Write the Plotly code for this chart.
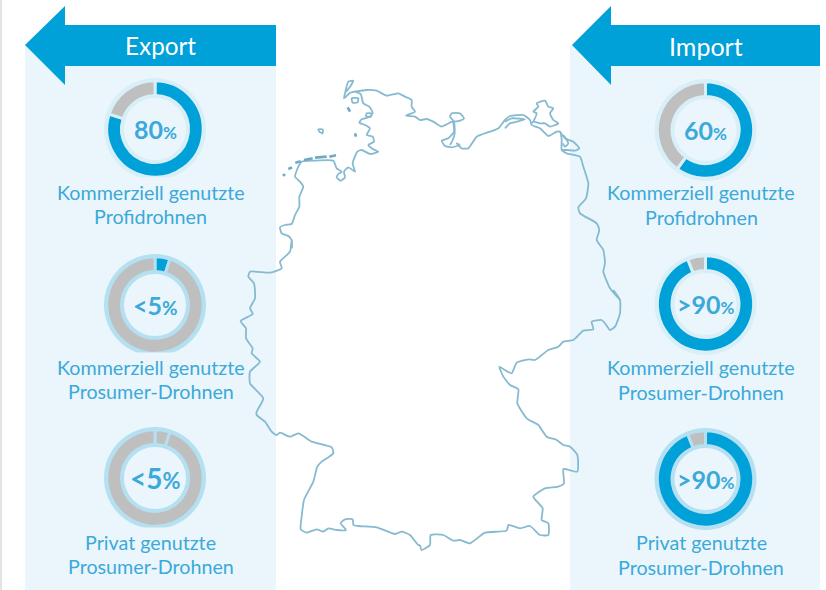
import plotly.graph_objects as go

W, H = 826, 590
FONT = "Lato"
TEXT = "#3ba9d9"
BLUE = "#00a0d8"
GREY = "#bfbfbf"
PANEL = "#eaf6fc"
HALO_LIGHT = "#d8eff8"
HALO_DARK = "#b4e0f2"
MAP_LINE = "#86bad0"

# Share values per donut: blue part, then grey part(s)
headers = ["Export", "Import"]
line_one = ["Kommerziell genutzte", "Kommerziell genutzte", "Privat genutzte"]
line_two = ["Profidrohnen", "Prosumer-Drohnen", "Prosumer-Drohnen"]
export_values = [[80, 20], [5, 95], [5, 95]]
export_colors = [[BLUE, GREY], [BLUE, GREY], [GREY, GREY]]
export_labels = ["80", "<5", "<5"]
export_sizes = [(25, 17), (25, 19), (28, 22)]
import_values = [[60, 40], [94, 6], [94, 6]]
import_colors = [[BLUE, GREY], [BLUE, GREY], [BLUE, GREY]]
import_labels = ["60", ">90", ">90"]
import_sizes = [(25, 17), (25, 17), (25, 17)]
export_halo = [HALO_LIGHT, HALO_DARK, HALO_DARK]
import_halo = [HALO_LIGHT, HALO_LIGHT, HALO_DARK]

# Map outline, read in three-times-enlarged crops: (offset x, offset y, points)
coast_west = (270, 70, [(65,535),(65,510),(55,498),(35,490),(30,472),(45,465),(65,462),(75,435),(88,410),(88,380),(100,350),(90,335),(75,320),(85,290),(95,275),(130,272),(190,272),(200,295),(215,305),(205,312),(200,322),(212,332),(225,322),(222,305),(235,292),(255,305),(248,280),(262,245),(275,240),(300,252),(325,245),(310,238),(295,225),(312,215),(308,200),(290,195),(300,175),(285,165),(268,158),(275,148),(300,140),(308,128),(298,110),(280,100),(272,72),(255,65),(240,68),(290,60),(320,62),(350,77),(385,70),(405,80),(425,90),(425,110),(435,125),(408,137),(435,140),(450,150),(470,147),(490,155),(515,170),(548,155),(552,185),(535,205),(515,212),(525,228),(545,232),(570,225)])
coast_east = (450, 90, [(30,165),(20,160),(35,175),(55,175),(80,140),(120,125),(145,115),(165,90),(180,78),(220,75),(240,90),(245,105),(270,115),(295,138),(320,125),(330,125),(335,150),(335,180),(350,190),(390,200),(400,230),(415,280),(408,325),(385,352),(390,370),(440,400),(448,420),(440,450),(460,480),(465,520),(460,545),(480,595),(510,630)])
border_east = (420, 290, [(580,0),(600,30),(600,70),(585,110),(570,120),(555,100),(545,90),(515,95),(520,118),(490,122),(460,150),(430,155),(415,170),(385,180),(345,210),(325,208),(290,218),(275,250),(255,240),(238,230),(250,260),(270,285),(295,298),(292,340),(320,385),(355,405),(380,440),(410,450),(430,465),(450,470),(472,495),(472,545),(430,537),(432,580),(415,590),(375,595),(340,620),(368,655),(365,690),(385,700),(385,735),(360,735),(330,708),(300,715),(265,705),(260,722),(195,728),(150,760),(120,750),(100,752),(70,735),(32,735),(30,765),(5,780),(0,765)])
border_west = (230, 240, [(570,915),(565,915),(540,885),(515,875),(495,882),(440,862),(385,858),(370,855),(368,838),(345,838),(332,850),(348,870),(320,870),(295,865),(280,875),(260,868),(230,878),(212,868),(215,830),(222,780),(250,725),(262,680),(275,665),(310,640),(305,622),(245,605),(205,580),(180,590),(150,578),(140,585),(125,575),(105,545),(80,525),(80,515),(100,475),(60,430),(60,395),(90,365),(65,340),(68,325),(48,295),(48,265),(32,243),(68,222),(60,205),(75,175),(72,130),(55,110),(60,95),(120,98),(155,85),(150,65),(180,35),(185,0),(185,24)])
sylt = (270, 70, [(240,68),(222,85),(225,70),(235,35),(250,32),(240,50),(228,65)])
foehr = (270, 70, [(245,85),(265,85),(262,98),(248,98),(245,85)])
amrum = (270, 70, [(233,112),(240,125)])
pellworm = (270, 70, [(290,130),(305,130),(302,140),(288,138),(290,130)])
helgoland = (270, 70, [(145,178),(158,178),(158,190),(148,185),(145,178)])
nordstrand = (270, 70, [(255,190),(258,200)])
frisian_a = (270, 70, [(38,316),(46,314)])
frisian_b = (270, 70, [(55,297),(66,292)])
frisian_c = (270, 70, [(76,278),(92,274)])
frisian_d = (270, 70, [(102,270),(128,265)])
frisian_e = (270, 70, [(135,263),(170,260)])
frisian_f = (270, 70, [(178,260),(198,256)])
fehmarn = (450, 90, [(12,95),(30,92),(42,85),(30,70),(5,70),(0,80),(12,95),(14,130),(8,150),(0,165)])
darss = (450, 90, [(165,115),(180,100),(200,95),(225,88),(185,85),(165,95)])
ruegen = (450, 90, [(245,100),(250,95),(270,100),(285,100),(300,110),(325,100),(310,90),(300,70),(310,55),(295,50),(285,32),(260,40),(265,50),(250,65),(260,70),(250,95)])
usedom = (450, 90, [(330,125),(345,145),(370,155),(388,175),(375,182),(350,180),(335,180)])
usedom_inner = (450, 90, [(340,135),(355,160),(345,170),(338,160)])

map_parts = [coast_west, coast_east, border_east, border_west, sylt, foehr, pellworm, helgoland, fehmarn, darss, ruegen, usedom, usedom_inner]
map_dashes = [amrum, nordstrand, frisian_a, frisian_b, frisian_c, frisian_d, frisian_e, frisian_f]


def to_xy(parts):
    xs, ys = [], []
    for ox, oy, pts in parts:
        for zx, zy in pts:
            xs.append(ox + zx / 3)
            ys.append(oy + zy / 3)
        xs.append(None)
        ys.append(None)
    return xs, ys


fig = go.Figure()


def donut(cx, cy, values, colors, halo):
    # halo ring behind the coloured ring
    R = 51
    fig.add_trace(go.Pie(values=[1], hole=31 / 51, sort=False, textinfo="none", hoverinfo="skip",
                         marker=dict(colors=[halo], line=dict(width=0)),
                         domain=dict(x=[(cx - R) / W, (cx + R) / W], y=[1 - (cy + R) / H, 1 - (cy - R) / H])))
    r = 48.2
    fig.add_trace(go.Pie(values=values, hole=33.5 / 48.2, sort=False, direction="clockwise", rotation=0,
                         textinfo="none", hoverinfo="skip",
                         marker=dict(colors=colors, line=dict(color=halo, width=3)),
                         domain=dict(x=[(cx - r) / W, (cx + r) / W], y=[1 - (cy + r) / H, 1 - (cy - r) / H])))


ann = []


def label(x, y, text, size, color=TEXT):
    ann.append(dict(x=x, y=y - 1.5, xref="x", yref="y", text=text, showarrow=False, xanchor="center", yanchor="middle",
                    font=dict(family=FONT, size=size, color=color)))


columns = [
    (155, 150.5, [129, 305, 478], [194, 369, 544], [218, 393, 568], export_values, export_colors, export_labels, export_halo, export_sizes),
    (705.5, 701, [130, 304, 479], [194, 369, 544], [219, 394, 569], import_values, import_colors, import_labels, import_halo, import_sizes),
]
for cx, tx, cys, y1s, y2s, vals, cols, labs, halos, sizes in columns:
    for i in range(3):
        donut(cx, cys[i], vals[i], cols[i], halos[i])
        big, small = sizes[i]
        label(cx, cys[i] + 1, f'<b>{labs[i]}</b><span style="font-size:{small}px"><b>%</b></span>', big)
        label(tx, y1s[i], line_one[i], 19.7)
        label(tx, y2s[i], line_two[i], 19.7)

label(160, 47, headers[0], 24.3, "white")
label(706, 47, headers[1], 25, "white")

# Panels and header arrows are background geometry, drawn as layout shapes
shapes = [
    dict(type="rect", x0=0, x1=2, y0=0, y1=590, fillcolor="#e4e4e4", line_width=0, layer="below"),
    dict(type="rect", x0=25, x1=276, y0=45, y1=590, fillcolor=PANEL, line_width=0, layer="below"),
    dict(type="rect", x0=570, x1=820, y0=45, y1=590, fillcolor=PANEL, line_width=0, layer="below"),
    dict(type="path", path="M25,45 L65,6 L65,25 L276,25 L276,66 L65,66 L65,85 Z", fillcolor=BLUE, line_width=0, layer="below"),
    dict(type="path", path="M572,45 L611,6 L611,25 L820,25 L820,66 L611,66 L611,85 Z", fillcolor=BLUE, line_width=0, layer="below"),
]
# halo rings are cut off flat at the bottom in the left column
for y in (177.5, 352.5, 527.5):
    shapes.append(dict(type="rect", x0=100, x1=210, y0=y, y1=y + 4, fillcolor=PANEL, line_width=0, layer="above"))

mx, my = to_xy(map_parts)
fig.add_trace(go.Scatter(x=mx, y=my, mode="lines", hoverinfo="skip", showlegend=False,
                         line=dict(color=MAP_LINE, width=1.8, shape="spline", smoothing=0.5)))
dx, dy = to_xy(map_dashes)
fig.add_trace(go.Scatter(x=dx, y=dy, mode="lines", hoverinfo="skip", showlegend=False,
                         line=dict(color="#6faac2", width=2.6)))

fig.update_layout(
    width=W, height=H, margin=dict(l=0, r=0, t=0, b=0), showlegend=False,
    paper_bgcolor="white", plot_bgcolor="rgba(0,0,0,0)",
    xaxis=dict(range=[0, W], visible=False, fixedrange=True, domain=[0, 1]),
    yaxis=dict(range=[H, 0], visible=False, fixedrange=True, domain=[0, 1]),
    shapes=shapes, annotations=ann,
)
fig.write_html("out.html", config={"displayModeBar": False},
               post_script="document.body.style.margin='0';document.documentElement.style.overflow='hidden';")
